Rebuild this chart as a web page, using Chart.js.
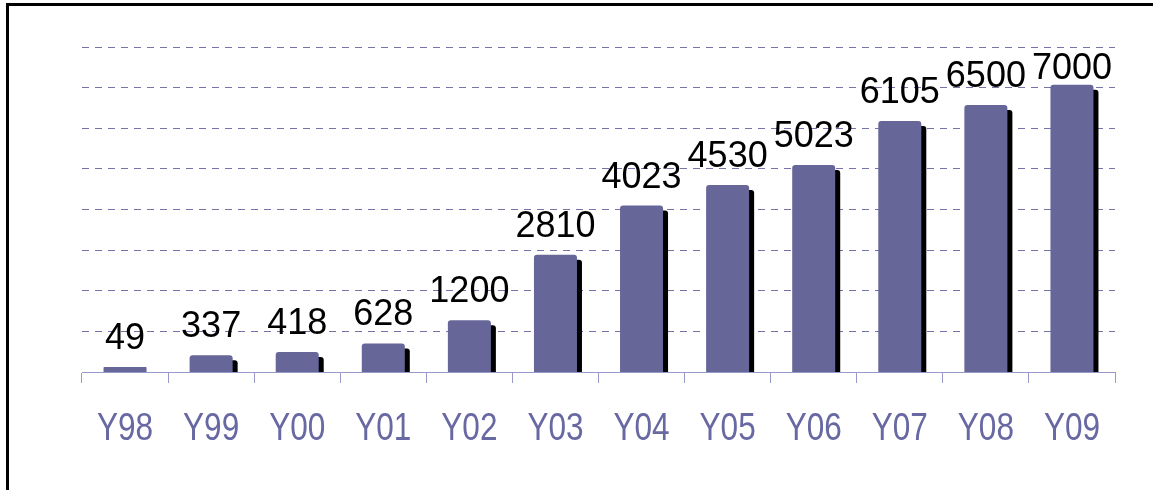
<!DOCTYPE html>
<html>
<head>
<meta charset="utf-8">
<script src="https://cdn.jsdelivr.net/npm/chart.js@4/dist/chart.umd.min.js"></script>
<style>
  html, body { margin: 0; padding: 0; background: #fff; }
  #wrap { position: relative; width: 1153px; height: 490px; }
</style>
</head>
<body>
<div id="wrap"><canvas id="c" width="1153" height="490"></canvas></div>
<script>
const categories = ['Y98','Y99','Y00','Y01','Y02','Y03','Y04','Y05','Y06','Y07','Y08','Y09'];
const values = [49, 337, 418, 628, 1200, 2810, 4023, 4530, 5023, 6105, 6500, 7000];
const yMin = 0, yMax = 8000, yStep = 1000;

const frame = {
  id: 'frame',
  afterDraw(chart) {
    const ctx = chart.ctx;
    ctx.save();
    ctx.fillStyle = '#000';
    ctx.fillRect(6, 3, chart.width - 6, 3);
    ctx.fillRect(6, 3, 3, chart.height - 3);
    ctx.restore();
  }
};

// category labels, drawn horizontally condensed like the reference
const xLabels = {
  id: 'xLabels',
  afterDraw(chart) {
    const ctx = chart.ctx, xs = chart.scales.x;
    ctx.save();
    ctx.font = '38px "Liberation Sans", Arial, sans-serif';
    ctx.fillStyle = '#6868a2';
    ctx.textAlign = 'center';
    ctx.textBaseline = 'alphabetic';
    categories.forEach((lab, i) => {
      const x = xs.getPixelForValue(i);
      ctx.save();
      ctx.translate(x, 440);
      ctx.scale(0.83, 1);
      ctx.fillText(lab, 0, 0);
      ctx.restore();
    });
    ctx.restore();
  }
};

const shadow = {
  id: 'shadow',
  beforeDatasetsDraw(chart) {
    const ctx = chart.ctx, a = chart.chartArea;
    ctx.save();
    ctx.beginPath();
    ctx.rect(a.left, 0, a.right - a.left + 10, a.bottom);
    ctx.clip();
    ctx.shadowColor = '#000';
    ctx.shadowOffsetX = 5;
    ctx.shadowOffsetY = 5;
    ctx.shadowBlur = 0;
  },
  afterDatasetsDraw(chart) {
    chart.ctx.restore();
    const ctx = chart.ctx;
    const meta = chart.getDatasetMeta(0);
    ctx.save();
    ctx.font = '36px "Liberation Sans", Arial, sans-serif';
    ctx.fillStyle = '#000';
    ctx.textAlign = 'center';
    ctx.textBaseline = 'alphabetic';
    meta.data.forEach((bar, i) => {
      const y = Math.max(bar.y - 21, 79);
      ctx.fillText(String(values[i]), bar.x, y);
    });
    ctx.restore();
  }
};

new Chart(document.getElementById('c'), {
  type: 'bar',
  data: {
    labels: categories,
    datasets: [{
      data: values,
      backgroundColor: '#666699',
      borderWidth: 0,
      inflateAmount: 3,
      borderRadius: { topLeft: 3, topRight: 3, bottomLeft: 0, bottomRight: 0 },
      borderSkipped: 'bottom',
      barPercentage: 0.43,
      categoryPercentage: 1.0
    }]
  },
  options: {
    responsive: false,
    animation: false,
    devicePixelRatio: 1,
    layout: { padding: { left: 82, right: 38, top: 47, bottom: 107 } },
    plugins: { legend: { display: false }, tooltip: { enabled: false }, title: { display: false } },
    scales: {
      x: {
        grid: { display: true, drawOnChartArea: false, drawTicks: true, tickLength: 11, color: '#9999c8', offset: true },
        border: { display: true, color: '#9999c8', width: 1 },
        ticks: { display: false }
      },
      y: {
        min: yMin, max: yMax,
        ticks: { display: false, stepSize: yStep },
        border: { display: false, dash: [7, 6] },
        grid: {
          drawTicks: false,
          color: (c) => c.tick && c.tick.value === 0 ? 'rgba(0,0,0,0)' : '#7474aa',
          lineWidth: 1
        }
      }
    }
  },
  plugins: [shadow, xLabels, frame]
});
</script>
</body>
</html>
